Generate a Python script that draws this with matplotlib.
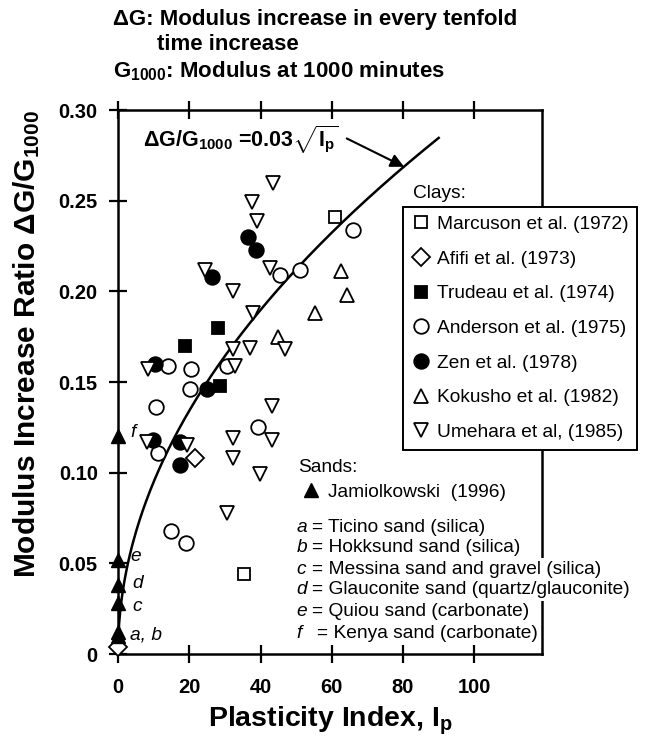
import numpy as np
import matplotlib.pyplot as plt

plt.rcParams['font.family'] = ['Liberation Sans', 'DejaVu Sans']
plt.rcParams['mathtext.fontset'] = 'custom'
plt.rcParams['mathtext.rm'] = 'Liberation Sans'
plt.rcParams['mathtext.bf'] = 'Liberation Sans:bold'
plt.rcParams['mathtext.it'] = 'Liberation Sans:italic'

# Clays
marcuson_ip = [60.8, 35.3]
marcuson_r = [0.241, 0.044]

afifi_ip = [21.6, 0.0]
afifi_r = [0.108, 0.004]

trudeau_ip = [18.8, 28.0, 28.5]
trudeau_r = [0.170, 0.180, 0.148]

anderson_ip = [45.6, 51.0, 65.9, 14.0, 20.6, 30.5, 20.2, 10.8, 39.3, 11.3, 15.0, 19.1]
anderson_r = [0.209, 0.212, 0.234, 0.159, 0.157, 0.159, 0.146, 0.136, 0.125, 0.111, 0.068, 0.061]

zen_ip = [36.4, 38.6, 26.3, 10.3, 25.0, 9.8, 17.4, 17.4]
zen_r = [0.230, 0.223, 0.208, 0.160, 0.146, 0.118, 0.117, 0.104]

kokusho_ip = [62.7, 64.4, 55.4, 44.8]
kokusho_r = [0.211, 0.198, 0.188, 0.175]

umehara_ip = [43.5, 37.5, 38.9, 24.4, 42.6, 32.2, 37.8, 46.8, 32.2, 37.0,
              8.4, 32.7, 43.2, 43.2, 32.2, 32.2, 39.8, 8.1, 19.3, 30.5]
umehara_r = [0.260, 0.249, 0.239, 0.212, 0.213, 0.200, 0.188, 0.168, 0.168, 0.169,
             0.157, 0.159, 0.137, 0.118, 0.119, 0.108, 0.099, 0.117, 0.115, 0.078]

# Sands (Jamiolkowski 1996), all at Ip = 0
sand_ip = [0, 0, 0, 0, 0, 0]
sand_r = [0.120, 0.052, 0.038, 0.028, 0.012, 0.010]
sand_tags = ['f', 'e', 'd', 'c', 'a, b', '']

clay_labels = ['Marcuson et al. (1972)', 'Afifi et al. (1973)', 'Trudeau et al. (1974)',
               'Anderson et al. (1975)', 'Zen et al. (1978)', 'Kokusho et al. (1982)',
               'Umehara et al, (1985)']
sand_notes = ['a = Ticino sand (silica)', 'b = Hokksund sand (silica)',
              'c = Messina sand and gravel (silica)', 'd = Glauconite sand (quartz/glauconite)',
              'e = Quiou sand (carbonate)', 'f   = Kenya sand (carbonate)']

W, H = 645, 742
fig = plt.figure(figsize=(W / 100, H / 100), dpi=100)
ax = fig.add_axes([118 / W, 1 - 654 / H, (542 - 118) / W, (654 - 110) / H])

fs = 13.8
ms = 10.5
mew = 1.3
series = [
    (marcuson_ip, marcuson_r, 's', 'white'),
    (afifi_ip, afifi_r, 'D', 'white'),
    (trudeau_ip, trudeau_r, 's', 'black'),
    (anderson_ip, anderson_r, 'o', 'white'),
    (zen_ip, zen_r, 'o', 'black'),
    (kokusho_ip, kokusho_r, '^', 'white'),
    (umehara_ip, umehara_r, 'v', 'white'),
]
handles = []
for (xs, ys, m, fc), lab in zip(series, clay_labels):
    size = ms - 1.8 if m in ('s', 'D') else ms
    h, = ax.plot(xs, ys, ls='none', marker=m, ms=size, mfc=fc, mec='black',
                 mew=mew, label=lab, zorder=4, clip_on=False)
    handles.append(h)

sand_h, = ax.plot(sand_ip, sand_r, ls='none', marker='^', ms=ms, mfc='black', mec='black',
                  label='Jamiolkowski  (1996)', zorder=4, clip_on=False)

tag_off = {'f': (9, 3), 'e': (9, 2), 'd': (10, 1), 'c': (10, -2), 'a, b': (9, -2)}
for y, t in zip(sand_r, sand_tags):
    if t:
        ax.annotate(t, (0, y), xytext=tag_off[t], textcoords='offset points',
                    fontsize=fs, style='italic', va='center', ha='left')

# fitted curve
ip_line = np.linspace(0, 90, 300)
ax.plot(ip_line, 0.03 * np.sqrt(ip_line), color='black', lw=1.8, zorder=3)

ax.text(7, 0.2835, r'ΔG/G$_{\mathbf{1000}}$ =0.03$\sqrt{\mathbf{I_p}}$',
        fontsize=15.5, fontweight='bold', va='center', ha='left')
ax.annotate('', xy=(81, 0.03 * np.sqrt(81) - 0.002), xytext=(63.5, 0.285),
            arrowprops=dict(arrowstyle='-|>', color='black', lw=1.5, mutation_scale=20))

ax.set_xlim(0, 119)
ax.set_ylim(0, 0.30)
ax.set_xticks([0, 20, 40, 60, 80, 100])
ax.set_yticks([0, 0.05, 0.10, 0.15, 0.20, 0.25, 0.30])
ax.set_yticklabels(['0', '0.05', '0.10', '0.15', '0.20', '0.25', '0.30'])
ax.tick_params(direction='inout', length=13, width=1.6, labelsize=14.5, top=True,
               right=False, pad=8)
ax.tick_params(axis='x', pad=11)
for lab in ax.get_xticklabels() + ax.get_yticklabels():
    lab.set_fontweight('bold')
for sp in ax.spines.values():
    sp.set_linewidth(1.8)

ax.set_xlabel('Plasticity Index, I$_{\\mathbf{p}}$', fontsize=20.5, fontweight='bold', labelpad=5)
ax.set_ylabel('Modulus Increase Ratio ΔG/G$_{\\mathbf{1000}}$', fontsize=21.5,
              fontweight='bold')
ax.yaxis.set_label_coords(-0.18, 0.57)

# clays legend
fig.text(413 / W, 1 - 193 / H, 'Clays:', fontsize=fs, va='center')
leg = fig.legend(handles=handles, loc='upper left', bbox_to_anchor=(403 / W, 1 - 207 / H),
                 fontsize=fs, frameon=True, fancybox=False, edgecolor='black',
                 framealpha=1, borderaxespad=0, labelspacing=0.9, handletextpad=0.3,
                 handlelength=1.0, borderpad=0.45)
leg.get_frame().set_linewidth(1.4)

# sands notes
fig.text(298 / W, 1 - 468 / H, 'Sands:', fontsize=fs, va='center')
fig.legend(handles=[sand_h], loc='center left', bbox_to_anchor=(301 / W, 1 - 492 / H),
           fontsize=fs, frameon=False, borderaxespad=0, handletextpad=0.4,
           handlelength=1.0, borderpad=0)
note_y = [527, 548, 569, 590, 612, 633]
for y, txt in zip(note_y, sand_notes):
    tag, rest = txt.split('=', 1)
    fig.text(297 / W, 1 - y / H, tag, fontsize=fs, style='italic', va='center')
    fig.text(297 / W + (0.024 if tag.strip() != 'f' else 0.031), 1 - y / H, '=' + rest,
             fontsize=fs, va='center',
             bbox=dict(facecolor='white', edgecolor='none', pad=1.5))

# title
fig.text(113 / W, 1 - 20 / H, 'ΔG: Modulus increase in every tenfold', fontsize=16,
         fontweight='bold', va='center')
fig.text(157 / W, 1 - 45 / H, 'time increase', fontsize=16, fontweight='bold', va='center')
fig.text(113 / W, 1 - 71 / H, 'G$_{\\mathbf{1000}}$: Modulus at 1000 minutes', fontsize=16,
         fontweight='bold', va='center')

fig.savefig('out.png', dpi=100)
